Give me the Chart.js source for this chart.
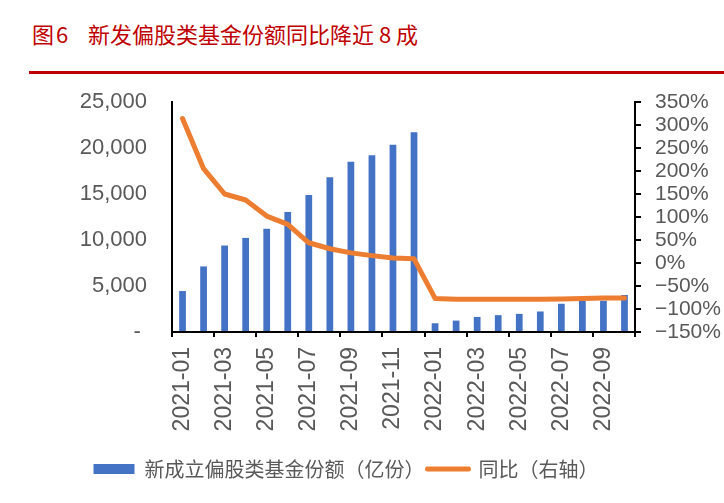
<!DOCTYPE html>
<html>
<head>
<meta charset="utf-8">
<script src="https://cdn.jsdelivr.net/npm/chart.js@4"></script>
<style>
  html, body { margin: 0; padding: 0; background: #fff; }
  body { width: 724px; height: 503px; position: relative; overflow: hidden; }
  .title { position: absolute; top: 22px; line-height: 22px; font-family: "Noto Sans CJK SC"; font-size: 22px; color: #c00000; white-space: pre; }
  .rule { position: absolute; left: 29px; right: 0; top: 71px; height: 3px; background: #c00000; }
  #wrap { position: absolute; left: 0; top: 0; width: 724px; height: 503px; }
</style>
</head>
<body>
<div class="title" style="left:32px">图</div>
<div class="title" style="left:56px">6</div>
<div class="title" style="left:88px">新发偏股类基金份额同比降近 8 成</div>
<div class="rule"></div>
<div id="wrap"><canvas id="chart"></canvas></div>
<script>
const months = [
  '2021-01', '2021-02', '2021-03', '2021-04', '2021-05', '2021-06',
  '2021-07', '2021-08', '2021-09', '2021-10', '2021-11', '2021-12',
  '2022-01', '2022-02', '2022-03', '2022-04', '2022-05', '2022-06',
  '2022-07', '2022-08', '2022-09', '2022-10'
];
// 新成立偏股类基金份额（亿份）
const shares = [
  4450, 7130, 9400, 10230, 11220, 13050, 14880, 16810, 18500, 19220, 20360, 21710,
  950, 1240, 1640, 1830, 1970, 2230, 3070, 3370, 3400, 4020
];
// 同比 (%)
const yoy = [
  314, 205, 150, 137, 102, 84, 44, 31, 22, 16, 11, 9,
  -77, -79, -79, -79, -79, -79, -78, -77, -76, -76
];

const grey = '#595959';

// legend sits a little left of centre in the original
const legendShift = {
  id: 'legendShift',
  afterLayout(chart) {
    chart.legend.left -= 16;
    chart.legend.right -= 16;
  }
};

new Chart(document.getElementById('chart'), {
  type: 'bar',
  data: {
    labels: months,
    datasets: [
      {
        label: '新成立偏股类基金份额（亿份）',
        data: shares,
        backgroundColor: '#4472c4',
        categoryPercentage: 1,
        barPercentage: 0.32,
        pointStyle: 'rect',
        yAxisID: 'y',
        order: 1
      },
      {
        type: 'line',
        label: '同比（右轴）',
        data: yoy,
        borderColor: '#ed7d31',
        backgroundColor: '#ed7d31',
        borderWidth: 5,
        borderJoinStyle: 'round',
        borderCapStyle: 'round',
        pointRadius: 0,
        pointStyle: 'line',
        tension: 0,
        yAxisID: 'y1',
        order: 0
      }
    ]
  },
  plugins: [legendShift],
  options: {
    responsive: true,
    maintainAspectRatio: false,
    animation: false,
    layout: { padding: { top: 102, left: 0, right: 0, bottom: 14 } },
    plugins: {
      tooltip: { enabled: false },
      legend: {
        position: 'bottom',
        labels: {
          usePointStyle: true,
          pointStyleWidth: 41,
          boxHeight: 10,
          padding: 3,
          color: grey,
          font: { family: 'Noto Sans CJK SC', size: 20 },
          sort: (a, b) => a.datasetIndex - b.datasetIndex,
          generateLabels: chart => Chart.defaults.plugins.legend.labels.generateLabels(chart)
            .map(item => item.datasetIndex === 1 ? { ...item, lineWidth: 5, lineCap: 'round' } : item)
        }
      }
    },
    scales: {
      x: {
        offset: true,
        grid: {
          display: true,
          drawOnChartArea: false,
          offset: true,
          tickLength: 5,
          lineWidth: 2,
          tickWidth: 2,
          tickColor: ctx => (ctx.index === undefined || ctx.index % 2 === 0) ? '#000' : 'rgba(0,0,0,0)'
        },
        border: { display: true, color: '#000', width: 2 },
        ticks: {
          autoSkip: false,
          minRotation: 90,
          maxRotation: 90,
          padding: 10,
          color: grey,
          font: { family: 'Liberation Sans', size: 23 },
          callback: (v, i) => i % 2 === 0 ? months[i] : ''
        },
        afterFit: s => { s.height = 124; }
      },
      y: {
        position: 'left',
        min: 0,
        max: 25000,
        grid: { drawOnChartArea: false, drawTicks: false, lineWidth: 2 },
        border: { display: true, color: '#000', width: 2 },
        ticks: {
          stepSize: 5000,
          autoSkip: false,
          padding: 25,
          color: grey,
          font: { family: 'Liberation Sans', size: 22 },
          callback: v => v === 0 ? '- ' : v.toLocaleString('en-US')
        },
        afterFit: s => { s.width = 172; }
      },
      y1: {
        position: 'right',
        min: -150,
        max: 350,
        grid: { drawOnChartArea: false, tickLength: 6, tickWidth: 2, tickColor: '#000', lineWidth: 2 },
        border: { display: true, color: '#000', width: 2 },
        ticks: {
          stepSize: 50,
          autoSkip: false,
          padding: 14,
          color: grey,
          font: { family: 'Liberation Sans', size: 21 },
          callback: v => (v < 0 ? '\u2212' + Math.abs(v) : v) + '%'
        },
        afterFit: s => { s.width = 89; }
      }
    }
  }
});
</script>
</body>
</html>
